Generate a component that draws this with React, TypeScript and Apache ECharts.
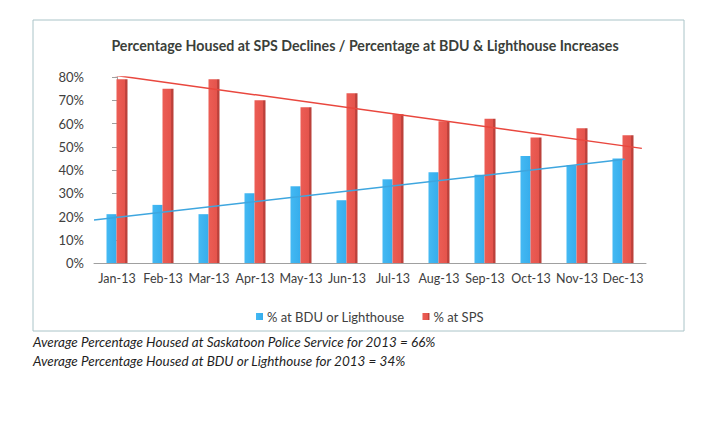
import { useEffect, useRef } from 'react'
import * as echarts from 'echarts'

const months = ['Jan-13', 'Feb-13', 'Mar-13', 'Apr-13', 'May-13', 'Jun-13', 'Jul-13', 'Aug-13', 'Sep-13', 'Oct-13', 'Nov-13', 'Dec-13']
const bduPct = [21, 25, 21, 30, 33, 27, 36, 39, 38, 46, 42, 45]
const spsPct = [79, 75, 79, 70, 67, 73, 64, 61, 62, 54, 58, 55]
// hand-drawn trend lines, read as [month index, %]
const spsTrend = [[-0.33, 81.5], [11.41, 49.3]]
const bduTrend = [[-0.5, 18.5], [11.04, 44.6]]

const TITLE = 'Percentage Housed at SPS Declines / Percentage at BDU & Lighthouse Increases'
const NOTE_SPS = 'Average Percentage Housed at Saskatoon Police Service for 2013 = 66%'
const NOTE_BDU = 'Average Percentage Housed at BDU or Lighthouse for 2013 = 34%'

const FONT = 'Lato, "Open Sans", sans-serif'

export default function App() {
  const ref = useRef<HTMLDivElement>(null)

  useEffect(() => {
    if (!ref.current) return
    const chart = echarts.init(ref.current, undefined, { renderer: 'svg' })
    const red = new echarts.graphic.LinearGradient(0, 0, 1, 0, [
      { offset: 0, color: '#ec5d55' }, { offset: 0.74, color: '#e5544c' },
      { offset: 0.75, color: '#c4443e' }, { offset: 1, color: '#b83f39' }])
    const blue = new echarts.graphic.LinearGradient(0, 0, 1, 0, [
      { offset: 0, color: '#44b9f3' }, { offset: 1, color: '#36adec' }])
    chart.setOption({
      animation: false,
      backgroundColor: '#fff',
      textStyle: { fontFamily: FONT },
      title: {
        text: TITLE, left: 360, top: 33, textAlign: 'center',
        textStyle: { fontFamily: FONT, fontSize: 14.2, fontWeight: 'bold', color: '#3b3f3a' },
      },
      legend: {
        left: 251, top: 305, itemWidth: 7, itemHeight: 7, itemGap: 18,
        icon: 'rect', data: ['% at BDU or Lighthouse', '% at SPS'],
        textStyle: { fontFamily: FONT, fontSize: 13, color: '#404040', padding: [0, 0, 0, -1] },
      },
      grid: { left: 94, right: 74, top: 77, bottom: 168 },
      xAxis: [
        {
          type: 'category', data: months,
          axisLine: { lineStyle: { color: '#a0a0a0' } },
          axisTick: { length: 5, lineStyle: { color: '#a0a0a0' } },
          axisLabel: { interval: 0, color: '#404040', fontSize: 12.5, margin: 9, fontFamily: FONT },
        },
        { type: 'value', min: -0.5, max: 11.5, show: false },
      ],
      yAxis: {
        type: 'value', min: 0, max: 80, interval: 10,
        axisLine: { show: true, lineStyle: { color: '#a0a0a0' } },
        axisTick: { show: true, length: 5, lineStyle: { color: '#a0a0a0' } },
        splitLine: { show: false },
        axisLabel: { formatter: '{value}%', color: '#404040', fontSize: 13, margin: 10, fontFamily: FONT },
      },
      series: [
        {
          name: '% at BDU or Lighthouse', type: 'bar', data: bduPct,
          barWidth: 10, barGap: '0%', itemStyle: { color: blue }, z: 2,
        },
        {
          name: '% at SPS', type: 'bar', data: spsPct,
          barWidth: 11, itemStyle: { color: red }, z: 2,
        },
        {
          type: 'line', xAxisIndex: 1, data: spsTrend, symbol: 'none', z: 5,
          lineStyle: { color: '#e9473e', width: 1.5 }, tooltip: { show: false },
        },
        {
          type: 'line', xAxisIndex: 1, data: bduTrend, symbol: 'none', z: 5,
          lineStyle: { color: '#3ea6df', width: 1.5 }, tooltip: { show: false },
        },
      ],
      graphic: [
        {
          type: 'rect', shape: { x: 33, y: 20, width: 651, height: 311 }, silent: true,
          style: { fill: 'none', stroke: '#aac4c8', lineWidth: 1 },
        },
        {
          type: 'text', x: 33, y: 342,
          style: { text: NOTE_SPS, fontFamily: FONT, fontSize: 13.5, fontStyle: 'italic', fill: '#1f1f1f', verticalAlign: 'middle' },
        },
        {
          type: 'text', x: 33, y: 361,
          style: { text: NOTE_BDU, fontFamily: FONT, fontSize: 13.5, fontStyle: 'italic', fill: '#1f1f1f', verticalAlign: 'middle' },
        },
      ],
    })
    return () => chart.dispose()
  }, [])

  return <div ref={ref} style={{ position: 'fixed', left: 0, top: 0, width: 720, height: 431 }} />
}
